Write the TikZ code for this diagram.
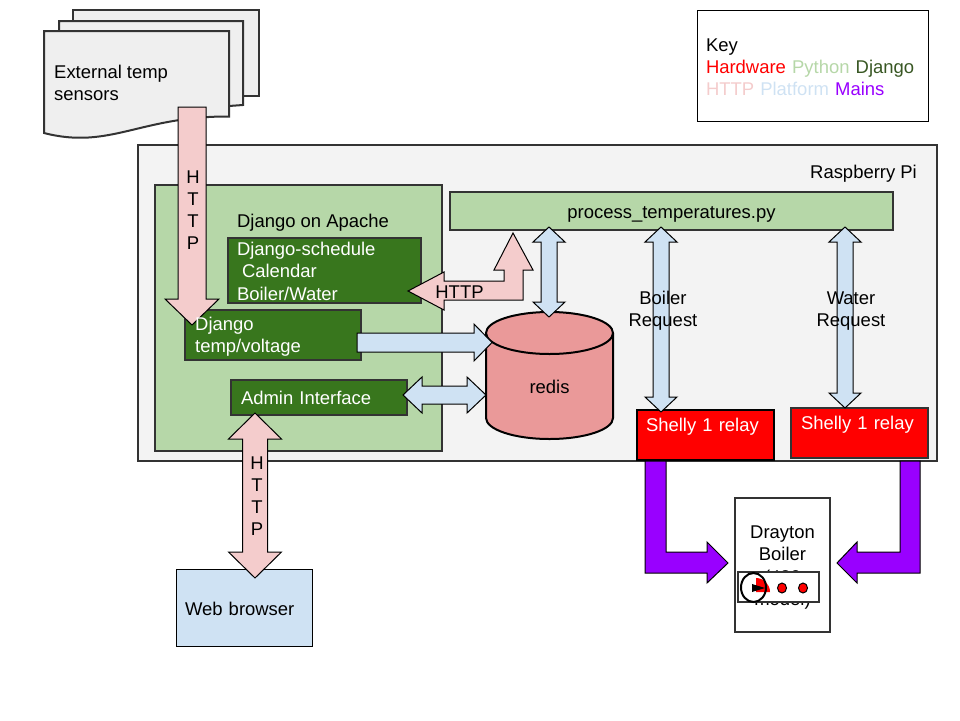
\documentclass[tikz,border=0pt]{standalone}
\usepackage{fontspec}
\setmainfont{Liberation Sans}
\usetikzlibrary{calc}
\definecolor{hardware}{RGB}{255,0,0}
\definecolor{python}{RGB}{182,215,168}
\definecolor{django}{RGB}{56,118,29}
\definecolor{djangotext}{RGB}{56,87,35}
\definecolor{http}{RGB}{244,204,204}
\definecolor{platform}{RGB}{207,226,243}
\definecolor{mains}{RGB}{153,0,255}
\definecolor{light}{RGB}{243,243,243}
\definecolor{paper}{RGB}{239,239,239}
\definecolor{store}{RGB}{234,153,153}
\definecolor{edge}{RGB}{51,51,51}
\newcommand{\diagramfont}{\fontsize{18.45}{22.2}\selectfont}
\tikzset{
    common/.style={anchor=north west, draw=edge, line width=2pt, inner sep=0pt, outer sep=0pt},
    panel/.style={common, fill=light},
    pybox/.style={common, fill=python},
    djangobox/.style={common, fill=django, text=white, align=left},
    relay/.style={common, fill=hardware, text=white, align=left},
    thinbox/.style={common, draw=black, line width=1pt},
    sheet/.style={draw=edge, line width=2pt, fill=paper},
    blockline/.style={draw=black, line width=1pt, line join=miter},
    % one head, #1 half shaft, #2 half head, #3 head length
    onehead/.style n args={3}{blockline, to path={
        -- ($(\tikztostart)!#1!90:(\tikztotarget)$)
        -- ($(\tikztotarget)!#3!(\tikztostart)!#1!90:(\tikztotarget)$)
        -- ($(\tikztotarget)!#3!(\tikztostart)!#2!90:(\tikztotarget)$)
        -- (\tikztotarget)
        -- ($(\tikztotarget)!#3!(\tikztostart)!#2!-90:(\tikztotarget)$)
        -- ($(\tikztotarget)!#3!(\tikztostart)!#1!-90:(\tikztotarget)$)
        -- ($(\tikztostart)!#1!-90:(\tikztotarget)$)
        -- cycle}},
    % two heads, same arguments
    twohead/.style n args={3}{blockline, to path={
        -- ($(\tikztostart)!#3!(\tikztotarget)!#2!90:(\tikztotarget)$)
        -- ($(\tikztostart)!#3!(\tikztotarget)!#1!90:(\tikztotarget)$)
        -- ($(\tikztotarget)!#3!(\tikztostart)!#1!90:(\tikztotarget)$)
        -- ($(\tikztotarget)!#3!(\tikztostart)!#2!90:(\tikztotarget)$)
        -- (\tikztotarget)
        -- ($(\tikztotarget)!#3!(\tikztostart)!#2!-90:(\tikztotarget)$)
        -- ($(\tikztotarget)!#3!(\tikztostart)!#1!-90:(\tikztotarget)$)
        -- ($(\tikztostart)!#3!(\tikztotarget)!#1!-90:(\tikztotarget)$)
        -- ($(\tikztostart)!#3!(\tikztotarget)!#2!-90:(\tikztotarget)$)
        -- cycle}}
}

\begin{document}
\begin{tikzpicture}[x=1pt, y=-1pt, every node/.style={font=\diagramfont, inner sep=0pt}]
    \useasboundingbox (0,0) rectangle (960,720);

    % stack of sheets
    \draw[sheet] (73,10) rectangle (259,96);
    \draw[sheet] (59,21) -- (243,21) -- (243,105) -- (229,106) -- (59,106) -- cycle;
    \draw[sheet] (44,31) -- (229,31) -- (229,116.5)
        .. controls (140,116) and (110,150) .. (44,133) -- cycle;
    \node[anchor=west, align=left] (sensors) at (54,83) {External temp\\sensors};

    % key
    \node[thinbox, minimum height=111pt, text width=213pt, inner xsep=9pt, align=left] (key) at (697,10)
        {\rule{0pt}{16pt}Key\\
        \textcolor{hardware}{Hardware} \textcolor{python}{Python} \textcolor{djangotext}{Django}\\
        \textcolor{http}{HTTP} \textcolor{platform}{Platform} \textcolor{mains}{Mains}};

    % raspberry pi
    \node[panel, minimum width=799pt, minimum height=316pt] (pi) at (138,145) {};
    \node (pi-label) at (863.5,174) {Raspberry Pi};
    \node[pybox, minimum width=287pt, minimum height=266pt] (apache) at (155,185) {};
    \node (apache-label) at (313,223) {Django on Apache};
    \node[djangobox, minimum height=65pt, text width=175pt, inner xsep=9pt] (schedule) at (228,238)
        {\rule{0pt}{15pt}Django-schedule\\\hspace*{5pt}Calendar\\Boiler/Water};
    \node[djangobox, minimum width=176pt, minimum height=50pt] (temp) at (185,310) {};
    \node[djangobox, minimum height=35pt, text width=156pt, inner xsep=10pt] (admin) at (231,380) {Admin Interface};
    \node[pybox, minimum width=443pt, minimum height=38pt, text height=14pt, text depth=0pt] (process) at (450,192) {process\_temperatures.py};

    % redis
    \draw[line width=2pt, fill=store] (486,333) -- (486,418)
        arc[start angle=180, end angle=360, x radius=63.5pt, y radius=21pt] -- (613,333);
    \draw[line width=2pt, fill=store] (549.5,333) ellipse[x radius=63.5pt, y radius=21pt];
    \node (redis) at (549.5,387) {redis};

    % relays, boiler, browser
    \node[relay, draw=black, minimum height=50pt, text width=119pt, inner xsep=9pt] (relayA) at (637,410) {\rule{0pt}{16pt}Shelly 1 relay\\\mbox{}};
    \node[relay, minimum height=50pt, text width=117pt, inner xsep=10pt] (relayB) at (791,408) {\rule{0pt}{16pt}Shelly 1 relay\\\mbox{}};
    \node[common, fill=white, align=center, minimum width=95pt, minimum height=134pt] (boiler) at (735,498)
        {\rule{0pt}{18pt}Drayton\\Boiler\\(480\\model)};
    \node[thinbox, fill=platform, minimum height=77pt, text width=118pt, inner xsep=9pt, align=left] (browser) at (176,569) {\rule{0pt}{16pt}Web browser};

    % boiler dial
    \node[common, fill=white, minimum width=81pt, minimum height=30pt] (dial) at (738,572) {};
    \fill[hardware] (756,592) -- (770,592) arc[start angle=0, end angle=90, radius=14pt] -- cycle;
    \draw[line width=2pt] (753.5,587.5) ellipse[x radius=12.5pt, y radius=14.5pt];
    \fill (752,584) -- (765,588) -- (752,592) -- cycle;
    \draw[fill=hardware, line width=1pt] (782,588) ellipse[x radius=4.5pt, y radius=5pt];
    \draw[fill=hardware, line width=1pt] (803,588) ellipse[x radius=4.5pt, y radius=5pt];

    % ends of the block arrows
    \coordinate (sensors-out) at (192,107);
    \coordinate (temp-in) at (192,325);
    \coordinate (temp-out) at (357,342.5);
    \coordinate (redis-left) at (492,342.5);
    \coordinate (admin-right) at (403,395);
    \coordinate (redis-side) at (486,395);
    \coordinate (admin-in) at (255,413);
    \coordinate (browser-in) at (255,578);
    \coordinate (process-redis) at (549,227);
    \coordinate (redis-top) at (549,317);
    \coordinate (process-boiler) at (661,227);
    \coordinate (relayA-in) at (661,412);
    \coordinate (process-water) at (845,227);
    \coordinate (relayB-in) at (845,408);
    \coordinate (schedule-out) at (408,291);
    \coordinate (process-in) at (513,233);
    \coordinate (relayA-out) at (655.5,461);
    \coordinate (relayB-out) at (910,461);
    \coordinate (boiler-left) at (728,563);
    \coordinate (boiler-right) at (837,563);

    \draw[onehead={14pt}{27pt}{26pt}, fill=http] (sensors-out) to (temp-in);
    \draw[onehead={9.5pt}{18.5pt}{18pt}, fill=platform] (temp-out) to (redis-left);
    \draw[twohead={9pt}{18pt}{19pt}, fill=platform] (admin-right) to (redis-side);
    \draw[twohead={12.5pt}{26.5pt}{26pt}, fill=http] (admin-in) to (browser-in);
    \draw[twohead={8pt}{16pt}{15pt}, fill=platform] (process-redis) to (redis-top);
    \draw[twohead={8pt}{16pt}{15pt}, fill=platform] (process-boiler) to (relayA-in);
    \draw[twohead={8pt}{16pt}{15pt}, fill=platform] (process-water) to (relayB-in);

    \draw[blockline, fill=http] (schedule-out)
        -- ($(schedule-out)+(36,-19)$) -- ($(schedule-out)+(36,-10)$) -| ($(process-in)+(-9,37)$)
        -- ($(process-in)+(-19,37)$) -- (process-in) -- ($(process-in)+(20,37)$)
        -- ($(process-in)+(10,37)$) |- ($(schedule-out)+(36,9)$)
        -- ($(schedule-out)+(36,19)$) -- cycle;
    \draw[blockline, fill=mains] ($(relayA-out)+(-10.5,0)$) |- ($(boiler-left)+(-21,10)$)
        -- ($(boiler-left)+(-21,20)$) -- (boiler-left) -- ($(boiler-left)+(-21,-21)$)
        -- ($(boiler-left)+(-21,-11)$) -| ($(relayA-out)+(10.5,0)$) -- cycle;
    \draw[blockline, fill=mains] ($(relayB-out)+(10,0)$) |- ($(boiler-right)+(20,10)$)
        -- ($(boiler-right)+(20,20)$) -- (boiler-right) -- ($(boiler-right)+(20,-21)$)
        -- ($(boiler-right)+(20,-11)$) -| ($(relayB-out)+(-10,0)$) -- cycle;

    % labels over the arrows
    \node[align=center] (http-sensors) at (193,210) {H\\T\\T\\P};
    \node[align=center] (http-browser) at (257,496) {H\\T\\T\\P};
    \node (http-schedule) at (459.5,292) {HTTP};
    \node[align=center] (boiler-request) at (663,311) {Boiler\\Request};
    \node[align=center] (water-request) at (851,311) {Water\\Request};
    \node[anchor=west, align=left, text=white] (temp-label) at (195,337) {Django\\temp/voltage};
\end{tikzpicture}
\end{document}
